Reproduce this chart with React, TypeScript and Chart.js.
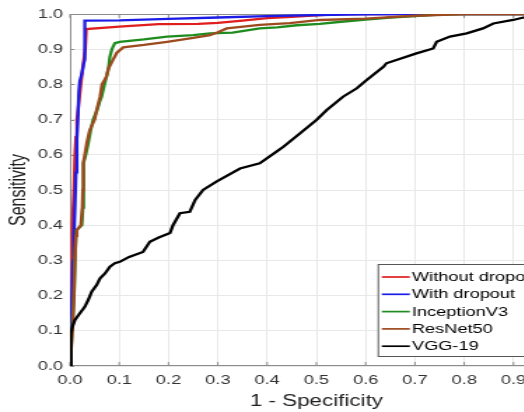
import { useEffect, useRef } from "react";
import { Chart, registerables } from "chart.js";

Chart.register(...registerables);

// The reference image is horizontally stretched; we draw at a narrower width and scale in X.
const STRETCH = 1.4;
const CANVAS_W = 420;
const CANVAS_H = 412;
const FONT = '"Liberation Sans", Arial, Helvetica, sans-serif';

const seriesNames = ["Without dropout", "With dropout", "InceptionV3", "ResNet50", "VGG-19"];
const seriesColors = ["#e01e1e", "#1c1ce6", "#1e8c1e", "#9c4a1e", "#000000"];

const withoutDropoutX = [0, 0.001, 0.003, 0.004, 0.005, 0.008, 0.01, 0.012, 0.014, 0.018, 0.022, 0.026, 0.031, 0.033, 0.1, 0.18, 0.26, 0.3, 0.35, 0.4, 0.45, 0.5, 0.55, 1];
const withoutDropoutY = [0, 0.1, 0.2, 0.3, 0.4, 0.5, 0.6, 0.65, 0.7, 0.75, 0.8, 0.85, 0.9, 0.957, 0.964, 0.971, 0.972, 0.975, 0.981, 0.988, 0.992, 0.996, 1, 1];

const withDropoutX = [0, 0.002, 0.004, 0.006, 0.008, 0.01, 0.012, 0.014, 0.016, 0.018, 0.02, 0.024, 0.028, 0.03, 0.03, 0.1, 0.2, 0.3, 0.4, 0.5, 0.6, 0.7, 1];
const withDropoutY = [0, 0.1, 0.2, 0.3, 0.37, 0.45, 0.55, 0.65, 0.7, 0.78, 0.81, 0.83, 0.86, 0.87, 0.981, 0.982, 0.986, 0.99, 0.994, 0.997, 0.999, 1, 1];

const inceptionX = [0, 0.004, 0.008, 0.01, 0.012, 0.013, 0.024, 0.026, 0.027, 0.028, 0.032, 0.037, 0.042, 0.047, 0.055, 0.06, 0.064, 0.07, 0.074, 0.078, 0.081, 0.085, 0.091, 0.101, 0.15, 0.197, 0.25, 0.284, 0.33, 0.385, 0.42, 0.46, 0.507, 0.55, 0.6, 0.65, 0.7, 0.75, 0.8, 1];
const inceptionY = [0, 0.1, 0.2, 0.3, 0.37, 0.386, 0.4, 0.45, 0.5, 0.577, 0.6, 0.633, 0.67, 0.7, 0.727, 0.75, 0.765, 0.8, 0.822, 0.845, 0.879, 0.9, 0.917, 0.921, 0.928, 0.936, 0.94, 0.945, 0.947, 0.959, 0.962, 0.968, 0.972, 0.978, 0.984, 0.99, 0.994, 0.998, 1, 1];

const resnetX = [0, 0.005, 0.008, 0.01, 0.012, 0.014, 0.022, 0.025, 0.026, 0.026, 0.028, 0.03, 0.034, 0.04, 0.05, 0.054, 0.061, 0.065, 0.074, 0.078, 0.087, 0.095, 0.108, 0.15, 0.197, 0.25, 0.284, 0.3, 0.318, 0.385, 0.446, 0.507, 0.6, 0.7, 0.8, 1];
const resnetY = [0, 0.1, 0.2, 0.3, 0.37, 0.386, 0.4, 0.45, 0.5, 0.55, 0.577, 0.6, 0.633, 0.67, 0.7, 0.727, 0.765, 0.8, 0.822, 0.845, 0.869, 0.89, 0.905, 0.912, 0.921, 0.932, 0.94, 0.948, 0.959, 0.969, 0.974, 0.983, 0.987, 0.995, 1, 1];

const vggX = [0, 0.002, 0.002, 0.005, 0.01, 0.02, 0.03, 0.037, 0.044, 0.054, 0.061, 0.071, 0.081, 0.091, 0.101, 0.12, 0.148, 0.162, 0.18, 0.203, 0.209, 0.223, 0.243, 0.254, 0.27, 0.297, 0.345, 0.385, 0.419, 0.433, 0.467, 0.5, 0.521, 0.554, 0.582, 0.602, 0.636, 0.642, 0.703, 0.737, 0.744, 0.771, 0.805, 0.838, 0.859, 0.899, 0.92, 0.96, 1];
const vggY = [0, 0.05, 0.094, 0.112, 0.131, 0.15, 0.168, 0.1875, 0.211, 0.23, 0.249, 0.263, 0.282, 0.292, 0.296, 0.31, 0.324, 0.353, 0.365, 0.378, 0.4, 0.434, 0.438, 0.472, 0.5, 0.524, 0.561, 0.576, 0.609, 0.623, 0.661, 0.699, 0.727, 0.765, 0.789, 0.8125, 0.85, 0.86, 0.888, 0.902, 0.921, 0.936, 0.945, 0.959, 0.973, 0.983, 0.99, 0.995, 1];

const seriesX = [withoutDropoutX, withDropoutX, inceptionX, resnetX, vggX];
const seriesY = [withoutDropoutY, withDropoutY, inceptionY, resnetY, vggY];

const axisMin = 0;
const axisMax = 1;
const axisStep = 0.1;

const framePlugin = {
  id: "frame",
  beforeDatasetsDraw(chart: any) {
    const { ctx, chartArea: a, scales } = chart;
    ctx.save();
    ctx.strokeStyle = "#8c8c8c";
    ctx.lineWidth = 1;
    ctx.strokeRect(a.left + 0.5, a.top + 0.5, a.right - a.left - 1, a.bottom - a.top - 1);
    ctx.beginPath();
    scales.x.ticks.forEach((t: any) => {
      const px = scales.x.getPixelForValue(t.value);
      ctx.moveTo(px, a.bottom);
      ctx.lineTo(px, a.bottom - 4);
      ctx.moveTo(px, a.top);
      ctx.lineTo(px, a.top + 4);
    });
    scales.y.ticks.forEach((t: any) => {
      const py = Math.round(scales.y.getPixelForValue(t.value)) + 0.5;
      ctx.moveTo(a.left, py);
      ctx.lineTo(a.left + 3, py);
      ctx.moveTo(a.right, py);
      ctx.lineTo(a.right - 3, py);
    });
    ctx.stroke();
    ctx.restore();
  },
  afterDraw(chart: any) {
    const { ctx, chartArea: a } = chart;
    ctx.save();
    ctx.font = `13px ${FONT}`;
    let maxW = 0;
    seriesNames.forEach((n) => (maxW = Math.max(maxW, ctx.measureText(n).width)));
    const lineLen = 20;
    const padL = 3;
    const gap = 1.5;
    const boxW = padL + lineLen + gap + maxW + 4;
    const rowH = 17.3;
    const boxH = 92;
    const right = a.right - 12;
    const bottom = a.bottom - 10;
    const left = right - boxW;
    const top = bottom - boxH;
    ctx.fillStyle = "#ffffff";
    ctx.fillRect(left, top, boxW, boxH);
    ctx.strokeStyle = "#555555";
    ctx.lineWidth = 1;
    ctx.strokeRect(left + 0.5, top + 0.5, boxW, boxH);
    ctx.textBaseline = "middle";
    ctx.textAlign = "left";
    seriesNames.forEach((n, i) => {
      const cy = top + 13 + i * rowH;
      ctx.strokeStyle = seriesColors[i];
      ctx.lineWidth = 1.7;
      ctx.beginPath();
      ctx.moveTo(left + padL, cy);
      ctx.lineTo(left + padL + lineLen, cy);
      ctx.stroke();
      ctx.fillStyle = "#000000";
      ctx.fillText(n, left + padL + lineLen + gap, cy + 0.5);
    });
    ctx.restore();
  },
};

export default function App() {
  const ref = useRef<HTMLCanvasElement | null>(null);

  useEffect(() => {
    if (!ref.current) return;
    const datasets = seriesNames.map((name, i) => ({
      label: name,
      data: seriesX[i].map((x, j) => ({ x, y: seriesY[i][j] })),
      borderColor: seriesColors[i],
      backgroundColor: seriesColors[i],
      borderWidth: 2.3,
      pointRadius: 0,
      showLine: true,
      tension: 0,
      fill: false,
      order: seriesNames.length - i,
    }));
    const tickFont = { family: FONT, size: 13 };
    const chart = new Chart(ref.current, {
      type: "scatter",
      data: { datasets },
      plugins: [framePlugin],
      options: {
        animation: false,
        responsive: false,
        devicePixelRatio: 1,
        layout: { padding: { top: 14, right: 18, bottom: 0, left: 0 } },
        plugins: { legend: { display: false }, tooltip: { enabled: false } },
        scales: {
          x: {
            type: "linear",
            min: axisMin,
            max: axisMax,
            afterFit: (s: any) => {
              s.height = 46;
            },
            ticks: {
              stepSize: axisStep,
              autoSkip: false,
              maxRotation: 0,
              padding: 7,
              color: "#333333",
              font: tickFont,
              callback: (v: any) => Number(v).toFixed(1),
            },
            grid: { color: "#e8e8e8", drawTicks: false },
            border: { display: false },
            title: {
              display: true,
              text: "1 - Specificity",
              color: "#222222",
              font: { family: FONT, size: 16 },
              padding: { top: 0, bottom: 1 },
            },
          },
          y: {
            type: "linear",
            min: axisMin,
            max: axisMax,
            afterFit: (s: any) => {
              s.width = 50;
            },
            ticks: {
              stepSize: axisStep,
              autoSkip: false,
              padding: 5,
              color: "#333333",
              font: tickFont,
              callback: (v: any) => Number(v).toFixed(1),
            },
            grid: { color: "#e8e8e8", drawTicks: false },
            border: { display: false },
            title: {
              display: true,
              text: "Sensitivity",
              color: "#222222",
              font: { family: FONT, size: 16 },
              padding: { top: 4, bottom: 0 },
            },
          },
        },
      },
    } as any);
    return () => chart.destroy();
  }, []);

  return (
    <div
      style={{
        position: "fixed",
        left: 0,
        top: 0,
        width: 524,
        height: 412,
        overflow: "hidden",
        background: "#ffffff",
      }}
    >
      <canvas
        ref={ref}
        width={CANVAS_W}
        height={CANVAS_H}
        style={{
          display: "block",
          width: CANVAS_W,
          height: CANVAS_H,
          transform: `scaleX(${STRETCH})`,
          transformOrigin: "0 0",
        }}
      />
    </div>
  );
}
